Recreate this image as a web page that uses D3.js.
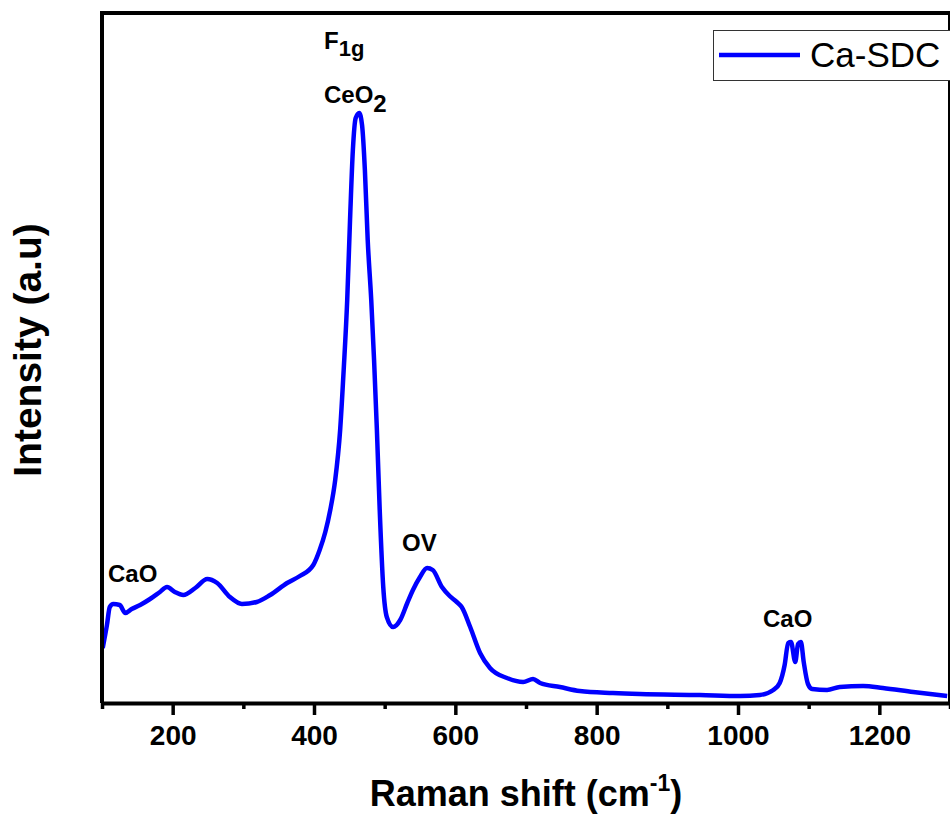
<!DOCTYPE html>
<html>
<head>
<meta charset="utf-8">
<script src="https://cdn.jsdelivr.net/npm/d3@7"></script>
<style>
  body { margin: 0; background: #fff; }
  svg { display: block; font-family: "Liberation Sans", Arial, sans-serif; }
</style>
</head>
<body>
<svg id="chart" width="950" height="819"></svg>
<script>
// Raman shift (cm-1)
const shift = [101, 107, 111, 116, 125, 133, 142, 154, 168, 182, 192, 203, 215, 232, 249, 263, 281, 298, 319, 338,
  362, 380, 399, 408, 416, 423, 430, 437, 442, 447, 451, 455, 459, 464, 468, 472, 476, 481, 485, 489,
  493, 498, 503, 512, 522, 532, 540, 550, 560, 568, 581, 592, 602, 609, 621, 635, 649, 673, 696, 710,
  720, 748, 776, 823, 861, 946, 1003, 1031, 1050, 1059, 1066, 1071, 1075, 1081, 1085, 1089, 1093, 1099, 1105, 1126,
  1144, 1177, 1205, 1248, 1296];
// intensity (a.u.)
const intensity = [55, 78, 96, 99, 98, 90, 94, 98, 104, 111, 116, 111, 108, 115, 124, 120, 106, 99, 101, 108,
  120, 127, 138, 153, 171, 193, 223, 273, 333, 403, 483, 553, 585, 590, 578, 533, 463, 403, 343, 273,
  193, 116, 86, 76, 83, 100, 113, 126, 135, 133, 116, 107, 101, 96, 76, 50, 35, 25, 21, 24,
  20, 16, 12, 10, 9, 8, 7, 8, 13, 20, 38, 60, 61, 41, 59, 61, 41, 19, 14, 13,
  16, 17, 15, 11, 7];

const majorTicks = [200, 400, 600, 800, 1000, 1200];
const minorTicks = [100, 300, 500, 700, 900, 1100, 1300];

const peakLabels = [
  { text: "CaO", x: 108, y: 582 },
  { text: "OV", x: 402, y: 551 },
  { text: "CaO", x: 763, y: 627 }
];

const svg = d3.select("#chart");
const plotL = 102, plotR = 950, plotT = 13, plotB = 703;

const x = d3.scaleLinear().domain([100, 1300]).range([plotL, plotR]);
const y = d3.scaleLinear().domain([0, 690]).range([plotB, plotT]);

const data = shift.map((s, i) => ({ s: s, v: intensity[i] }));

// curve
svg.append("path")
  .datum(data)
  .attr("fill", "none")
  .attr("stroke", "#0000ff")
  .attr("stroke-width", 4.5)
  .attr("stroke-linejoin", "round")
  .attr("d", d3.line().x(d => x(d.s)).y(d => y(d.v)).curve(d3.curveMonotoneX));

// frame (top / left / right)
svg.append("path")
  .attr("d", `M${plotL},${plotB} V${plotT} H${plotR}  V${plotB}`)
  .attr("fill", "none")
  .attr("stroke", "#000")
  .attr("stroke-width", 4);

// x axis
const gx = svg.append("g")
  .attr("transform", `translate(0,${plotB})`)
  .call(d3.axisBottom(x).tickValues(majorTicks).tickFormat(d3.format("d"))
    .tickSize(12).tickSizeOuter(0).tickPadding(10));
gx.select(".domain").attr("stroke-width", 4);
gx.selectAll(".tick line").attr("stroke-width", 3.5);
gx.selectAll(".tick text")
  .attr("font-family", "'Liberation Sans', Arial, sans-serif")
  .attr("font-size", 28)
  .attr("font-weight", "bold")
  .attr("fill", "#000");

const gm = svg.append("g")
  .attr("transform", `translate(0,${plotB})`)
  .call(d3.axisBottom(x).tickValues(minorTicks).tickSize(6).tickSizeOuter(0).tickFormat(""));
gm.select(".domain").remove();
gm.selectAll(".tick line").attr("stroke-width", 3.5);

// axis titles
const xt = svg.append("text")
  .attr("x", 526)
  .attr("y", 806)
  .attr("text-anchor", "middle")
  .attr("font-size", 36)
  .attr("font-weight", "bold");
xt.append("tspan").text("Raman shift (cm");
xt.append("tspan").attr("font-size", 23).attr("dy", -15).text("-1");
xt.append("tspan").attr("dy", 15).text(")");

svg.append("text")
  .attr("transform", "translate(41,350) rotate(-90)")
  .attr("text-anchor", "middle")
  .attr("font-size", 39)
  .attr("font-weight", "bold")
  .text("Intensity (a.u)");

// peak annotations
svg.selectAll(".peak")
  .data(peakLabels)
  .enter()
  .append("text")
  .attr("class", "peak")
  .attr("x", d => d.x)
  .attr("y", d => d.y)
  .attr("font-size", 24)
  .attr("font-weight", "bold")
  .text(d => d.text);

const f = svg.append("text").attr("x", 324).attr("y", 49).attr("font-size", 24).attr("font-weight", "bold");
f.append("tspan").text("F");
f.append("tspan").attr("font-size", 22).attr("dy", 7).text("1g");

const ce = svg.append("text").attr("x", 324).attr("y", 103).attr("font-size", 24).attr("font-weight", "bold");
ce.append("tspan").text("CeO");
ce.append("tspan").attr("dy", 9).text("2");

// legend
const lg = svg.append("g");
lg.append("rect")
  .attr("x", 713.5).attr("y", 30.5)
  .attr("width", 240).attr("height", 50)
  .attr("fill", "#fff")
  .attr("stroke", "#333")
  .attr("stroke-width", 1);
lg.append("line")
  .attr("x1", 719).attr("x2", 800)
  .attr("y1", 55).attr("y2", 55)
  .attr("stroke", "#0000ff")
  .attr("stroke-width", 4.5);
lg.append("text")
  .attr("x", 810).attr("y", 67)
  .attr("font-size", 35)
  .text("Ca-SDC");
</script>
</body>
</html>
